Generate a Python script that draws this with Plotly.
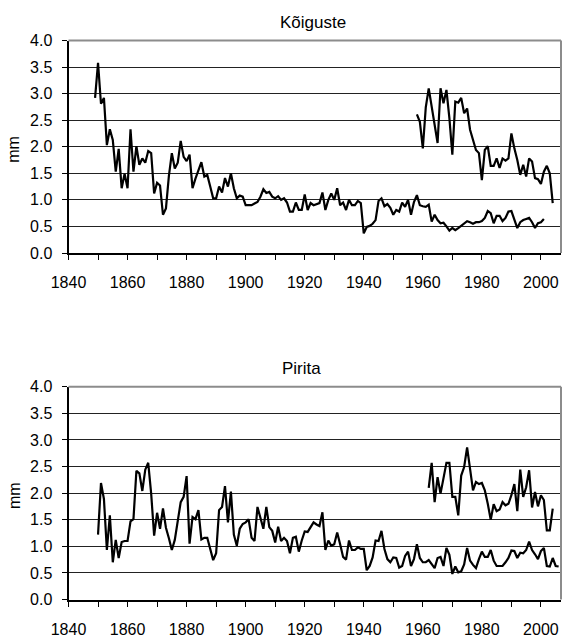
import plotly.graph_objects as go

# ---------------- data ----------------
# Kõiguste, long series (annual, starting 1849)
k_long_start = 1849
k_long = [
    2.92,
    3.58, 2.81, 2.92, 2.03, 2.33, 2.13, 1.53, 1.96, 1.22, 1.49,
    1.22, 2.33, 1.53, 2.01, 1.66, 1.78, 1.70, 1.92, 1.88, 1.12,
    1.32, 1.27, 0.72, 0.84, 1.45, 1.88, 1.59, 1.70, 2.11, 1.81,
    1.73, 1.85, 1.22, 1.40, 1.55, 1.71, 1.44, 1.47, 1.25, 1.03,
    1.03, 1.25, 1.14, 1.41, 1.25, 1.50, 1.22, 1.03, 1.08, 1.06,
    0.90, 0.90, 0.90, 0.93, 0.96, 1.06, 1.20, 1.13, 1.15, 1.06,
    1.03, 1.07, 1.00, 1.03, 0.95, 0.78, 0.78, 0.95, 0.81, 0.81,
    1.10, 0.81, 0.94, 0.90, 0.92, 0.94, 1.14, 0.81, 1.00, 1.12,
    1.00, 1.22, 0.90, 0.95, 0.81, 1.00, 0.90, 0.90, 0.98, 0.94,
    0.37, 0.49, 0.51, 0.55, 0.62, 0.98, 1.03, 0.88, 0.92, 0.85,
    0.72, 0.81, 0.78, 0.95, 0.87, 1.00, 0.72, 0.96, 1.09, 0.90,
    0.88, 0.87, 0.91, 0.59, 0.72, 0.62, 0.56, 0.57, 0.50, 0.42,
    0.47, 0.43, 0.47, 0.51, 0.55, 0.60, 0.58, 0.55, 0.58, 0.58,
    0.60, 0.66, 0.79, 0.75, 0.56, 0.70, 0.70, 0.60, 0.66, 0.78,
    0.79, 0.62, 0.47, 0.58, 0.62, 0.64, 0.66, 0.58, 0.47, 0.56,
    0.58, 0.64,
]

# Kõiguste, short series (starting 1958)
k_short_start = 1958
k_short = [
    2.61, 2.47,
    1.97, 2.74, 3.10, 2.75, 2.40, 2.07, 3.10, 2.82, 3.07, 2.54,
    1.85, 2.85, 2.83, 2.92, 2.63, 2.72, 2.32, 2.13, 1.94, 1.88,
    1.37, 1.94, 2.01, 1.64, 1.64, 1.78, 1.60, 1.78, 1.74, 1.78,
    2.25, 1.97, 1.75, 1.47, 1.66, 1.44, 1.78, 1.72, 1.41, 1.39,
    1.30, 1.53, 1.64, 1.50, 0.94,
]

# Pirita, long series (starting 1850)
p_long_start = 1850
p_long = [
    1.22, 2.19, 1.89, 0.93, 1.58, 0.70, 1.12, 0.78, 1.08, 1.10,
    1.10, 1.47, 1.51, 2.42, 2.37, 2.04, 2.44, 2.57, 1.99, 1.20,
    1.63, 1.33, 1.71, 1.35, 1.15, 0.93, 1.12, 1.45, 1.83, 1.93,
    2.32, 1.05, 1.55, 1.51, 1.68, 1.13, 1.16, 1.16, 0.95, 0.74,
    0.87, 1.68, 1.74, 2.13, 1.45, 2.03, 1.22, 1.01, 1.33, 1.42,
    1.45, 1.51, 1.16, 1.10, 1.74, 1.51, 1.33, 1.74, 1.36, 1.29,
    1.07, 1.37, 1.10, 1.16, 1.10, 0.87, 1.16, 1.18, 0.90, 1.11,
    1.28, 1.27, 1.36, 1.45, 1.41, 1.38, 1.64, 0.93, 1.11, 1.01,
    1.04, 1.26, 1.04, 0.80, 0.75, 1.11, 0.93, 0.93, 0.98, 0.95,
    0.95, 0.55, 0.63, 0.79, 1.11, 1.10, 1.29, 0.95, 0.76, 0.70,
    0.79, 0.78, 0.60, 0.63, 0.82, 0.90, 0.63, 0.76, 1.04, 0.78,
    0.70, 0.70, 0.74, 0.67, 0.59, 0.78, 0.80, 0.63, 0.97, 0.84,
    0.48, 0.62, 0.51, 0.53, 0.66, 0.97, 0.73, 0.65, 0.59, 0.76,
    0.90, 0.80, 0.80, 0.93, 0.73, 0.63, 0.63, 0.63, 0.70, 0.78,
    0.92, 0.91, 0.78, 0.88, 0.87, 0.93, 1.09, 0.93, 0.85, 0.76,
    0.91, 0.97, 0.63, 0.62, 0.78, 0.63, 0.62,
]

# Pirita, short series (starting 1962)
p_short_start = 1962
p_short = [
    2.10, 2.57, 1.83, 2.30, 1.99, 2.30, 2.57, 2.57,
    1.93, 1.93, 1.58, 2.33, 2.49, 2.86, 2.40, 2.05, 2.21, 2.17,
    2.19, 2.05, 1.80, 1.50, 1.79, 1.66, 1.69, 1.83, 1.77, 1.80,
    1.96, 2.17, 1.66, 2.44, 1.93, 2.11, 2.43, 1.73, 2.02, 1.75,
    1.96, 1.87, 1.30, 1.30, 1.71,
]

titles = ["Kõiguste", "Pirita"]
y_title = "mm"
x_ticks = list(range(1840, 2001, 10))
x_ticktext = [str(v) if (v - 1840) % 20 == 0 else "" for v in x_ticks]
y_ticks = [0.0, 0.5, 1.0, 1.5, 2.0, 2.5, 3.0, 3.5, 4.0]
y_ticktext = [f"{v:.1f}" for v in y_ticks]

# ---------------- layout geometry (pixels) ----------------
W, H = 563, 639
x0_px, x1_px = 68.5, 561.0
panels = [(40.5, 253.0), (386.7, 599.5)]  # (top, bottom) in px


def yr(start, vals):
    return list(range(start, start + len(vals)))


FONT = "Liberation Sans, Arial, sans-serif"
fig = go.Figure()

series = [
    [(k_long_start, k_long), (k_short_start, k_short)],
    [(p_long_start, p_long), (p_short_start, p_short)],
]

for i, sers in enumerate(series):
    xa = "x" if i == 0 else "x2"
    ya = "y" if i == 0 else "y2"
    for start, vals in sers:
        fig.add_trace(go.Scatter(
            x=yr(start, vals), y=vals, mode="lines",
            line=dict(color="black", width=2.2),
            xaxis=xa, yaxis=ya, showlegend=False, hoverinfo="skip",
        ))

axis_common_x = dict(
    range=[1840, 2006.8], tickmode="array", tickvals=x_ticks, ticktext=x_ticktext,
    ticks="outside", ticklen=5, tickwidth=1, tickcolor="black",
    showline=True, linecolor="black", linewidth=2, showgrid=False, zeroline=False,
    tickfont=dict(family=FONT, size=16, color="black"),
    ticklabelstandoff=9, automargin=False, fixedrange=True,
)
axis_common_y = dict(
    range=[0, 4], tickmode="array", tickvals=y_ticks, ticktext=y_ticktext,
    ticks="outside", ticklen=5, tickwidth=1, tickcolor="black",
    showline=True, linecolor="black", linewidth=2,
    showgrid=True, gridcolor="#222222", gridwidth=1, zeroline=False,
    tickfont=dict(family=FONT, size=16, color="black"),
    ticklabelstandoff=6, automargin=False, fixedrange=True,
)

xd = [x0_px / W, x1_px / W]
layout = dict(
    width=W, height=H, margin=dict(l=0, r=0, t=0, b=0),
    paper_bgcolor="white", plot_bgcolor="white", showlegend=False,
)
for i, (top, bot) in enumerate(panels):
    yd = [1 - bot / H, 1 - top / H]
    sx = "" if i == 0 else "2"
    layout[f"xaxis{sx}"] = dict(axis_common_x, domain=xd, anchor=f"y{sx}")
    layout[f"yaxis{sx}"] = dict(axis_common_y, domain=yd, anchor=f"x{sx}")
fig.update_layout(**layout)

# plot-area border (gray) on top and right
shapes = []
for i in range(2):
    sx = "" if i == 0 else "2"
    shapes.append(dict(type="line", xref=f"x{sx} domain", yref=f"y{sx} domain",
                       x0=0, x1=1, y0=1, y1=1, line=dict(color="#8c8c8c", width=2), layer="above"))
    shapes.append(dict(type="line", xref=f"x{sx} domain", yref=f"y{sx} domain",
                       x0=1, x1=1, y0=0, y1=1, line=dict(color="#8c8c8c", width=2), layer="above"))
fig.update_layout(shapes=shapes)

# titles and y-axis labels
title_pos = [(313, 22), (301, 368)]
ann = []
for i, (tx, ty) in enumerate(title_pos):
    ann.append(dict(text=titles[i], x=tx / W, y=1 - ty / H, xref="paper", yref="paper",
                    showarrow=False, xanchor="center", yanchor="middle",
                    font=dict(family=FONT, size=17, color="black")))
    top, bot = panels[i]
    ann.append(dict(text=y_title, x=14 / W, y=1 - ((top + bot) / 2 + 3) / H,
                    xref="paper", yref="paper", showarrow=False, textangle=-90,
                    xanchor="center", yanchor="middle",
                    font=dict(family=FONT, size=16, color="black")))
fig.update_layout(annotations=ann)

fig.write_html("out.html")
